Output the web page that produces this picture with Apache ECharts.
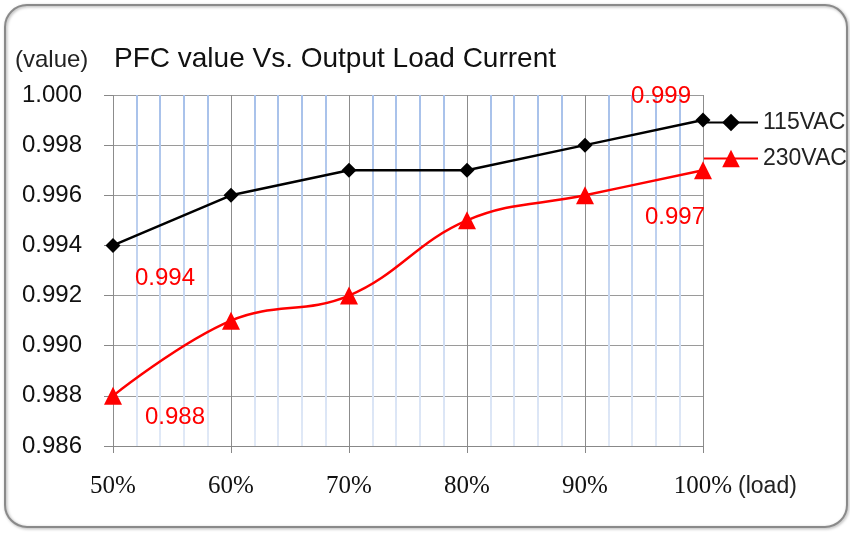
<!DOCTYPE html>
<html><head><meta charset="utf-8">
<script src="https://cdn.jsdelivr.net/npm/echarts@6/dist/echarts.min.js"></script>
<style>html,body{margin:0;padding:0;background:#fff}#c{width:850px;height:533px}</style>
</head><body><div id="c"></div>
<script>
const loads = [50, 60, 70, 80, 90, 100];
const xTickLabels = ['50%', '60%', '70%', '80%', '90%', '100%'];
const yTicks = ['0.986','0.988','0.990','0.992','0.994','0.996','0.998','1.000'];
const pfc115 = [0.994, 0.996, 0.997, 0.997, 0.998, 0.999];
const pfc230 = [0.988, 0.991, 0.992, 0.995, 0.996, 0.997];
const seriesNames = ['115VAC', '230VAC'];

const SANS = '"Liberation Sans", Arial, sans-serif';
const labelStyle = {show: true, position: 'inside', color: '#ff0000', fontSize: 24, fontFamily: SANS};

function buildData(vals, labels) {
  return vals.map((v, i) => {
    const d = {value: [loads[i], v]};
    if (labels[i]) d.label = Object.assign({}, labelStyle, {offset: labels[i]});
    return d;
  });
}

const chart = echarts.init(document.getElementById('c'), null, {renderer: 'canvas'});
chart.setOption({
  animation: false,
  backgroundColor: '#fff',
  graphic: [{
    type: 'rect', shape: {x: 5, y: 5, width: 842, height: 522, r: 22},
    style: {fill: 'none', stroke: '#8a8a8a', lineWidth: 2, shadowBlur: 3, shadowOffsetX: 1, shadowOffsetY: 1, shadowColor: 'rgba(0,0,0,0.35)'},
    z: -1
  }],
  title: [
    {text: '(value)', left: 10, top: 43, textStyle: {fontFamily: SANS, fontSize: 24, fontWeight: 'normal', color: '#222'}},
    {text: 'PFC value Vs. Output Load Current', left: 109, top: 40, textStyle: {fontFamily: SANS, fontSize: 28, fontWeight: 'normal', color: '#111'}}
  ],
  legend: {
    orient: 'vertical', left: 698, top: 106, itemGap: 13, itemWidth: 54, itemHeight: 22,
    data: seriesNames,
    textStyle: {fontFamily: SANS, fontSize: 23, color: '#222'}
  },
  grid: {left: 113, right: 147, top: 95, bottom: 87, containLabel: false},
  xAxis: {
    type: 'value', min: 50, max: 100, interval: 10,
    axisLine: {show: true, lineStyle: {color: '#888', width: 1}},
    axisTick: {show: true, length: 7, lineStyle: {color: '#888'}},
    axisLabel: {margin: 28, fontFamily: '"Liberation Serif", "Times New Roman", serif', fontSize: 25, color: '#111',
      formatter: v => xTickLabels[loads.indexOf(v)]},
    splitLine: {show: true, lineStyle: {color: '#8c8c8c', width: 1}},
    minorTick: {show: false, splitNumber: 5},
    minorSplitLine: {show: true, lineStyle: {width: 2,
      color: new echarts.graphic.LinearGradient(0, 0, 0, 1, [{offset: 0, color: '#a6c0ea'}, {offset: 1, color: '#e2eaf7'}])}},
    name: '(load)', nameLocation: 'end', nameGap: -4,
    nameTextStyle: {fontFamily: SANS, fontSize: 23, color: '#222', align: 'left', verticalAlign: 'top', padding: [29, 0, 0, 38]}
  },
  yAxis: {
    type: 'value', min: 0.986, max: 1.000, interval: 0.002,
    axisLine: {show: false},
    axisTick: {show: true, inside: false, length: 9, lineStyle: {color: '#888'}},
    axisLabel: {margin: 31, fontFamily: SANS, fontSize: 24, color: '#111',
      formatter: v => yTicks[Math.round((v - 0.986) / 0.002)]},
    splitLine: {show: true, lineStyle: {color: '#9a9a9a', width: 1}}
  },
  series: [
    {
      name: seriesNames[0], type: 'line', smooth: false,
      symbol: 'diamond', symbolSize: 15,
      itemStyle: {color: '#000'}, lineStyle: {color: '#000', width: 2.5},
      data: buildData(pfc115, [[52, 33], null, null, null, null, [-42, -24]]),
      z: 3
    },
    {
      name: seriesNames[1], type: 'line', smooth: 0.4,
      symbol: 'triangle', symbolSize: 18,
      itemStyle: {color: '#ff0000'}, lineStyle: {color: '#ff0000', width: 2.5},
      data: buildData(pfc230, [[62, 22], null, null, null, null, [-28, 47]]),
      z: 4
    }
  ]
});
</script></body></html>
